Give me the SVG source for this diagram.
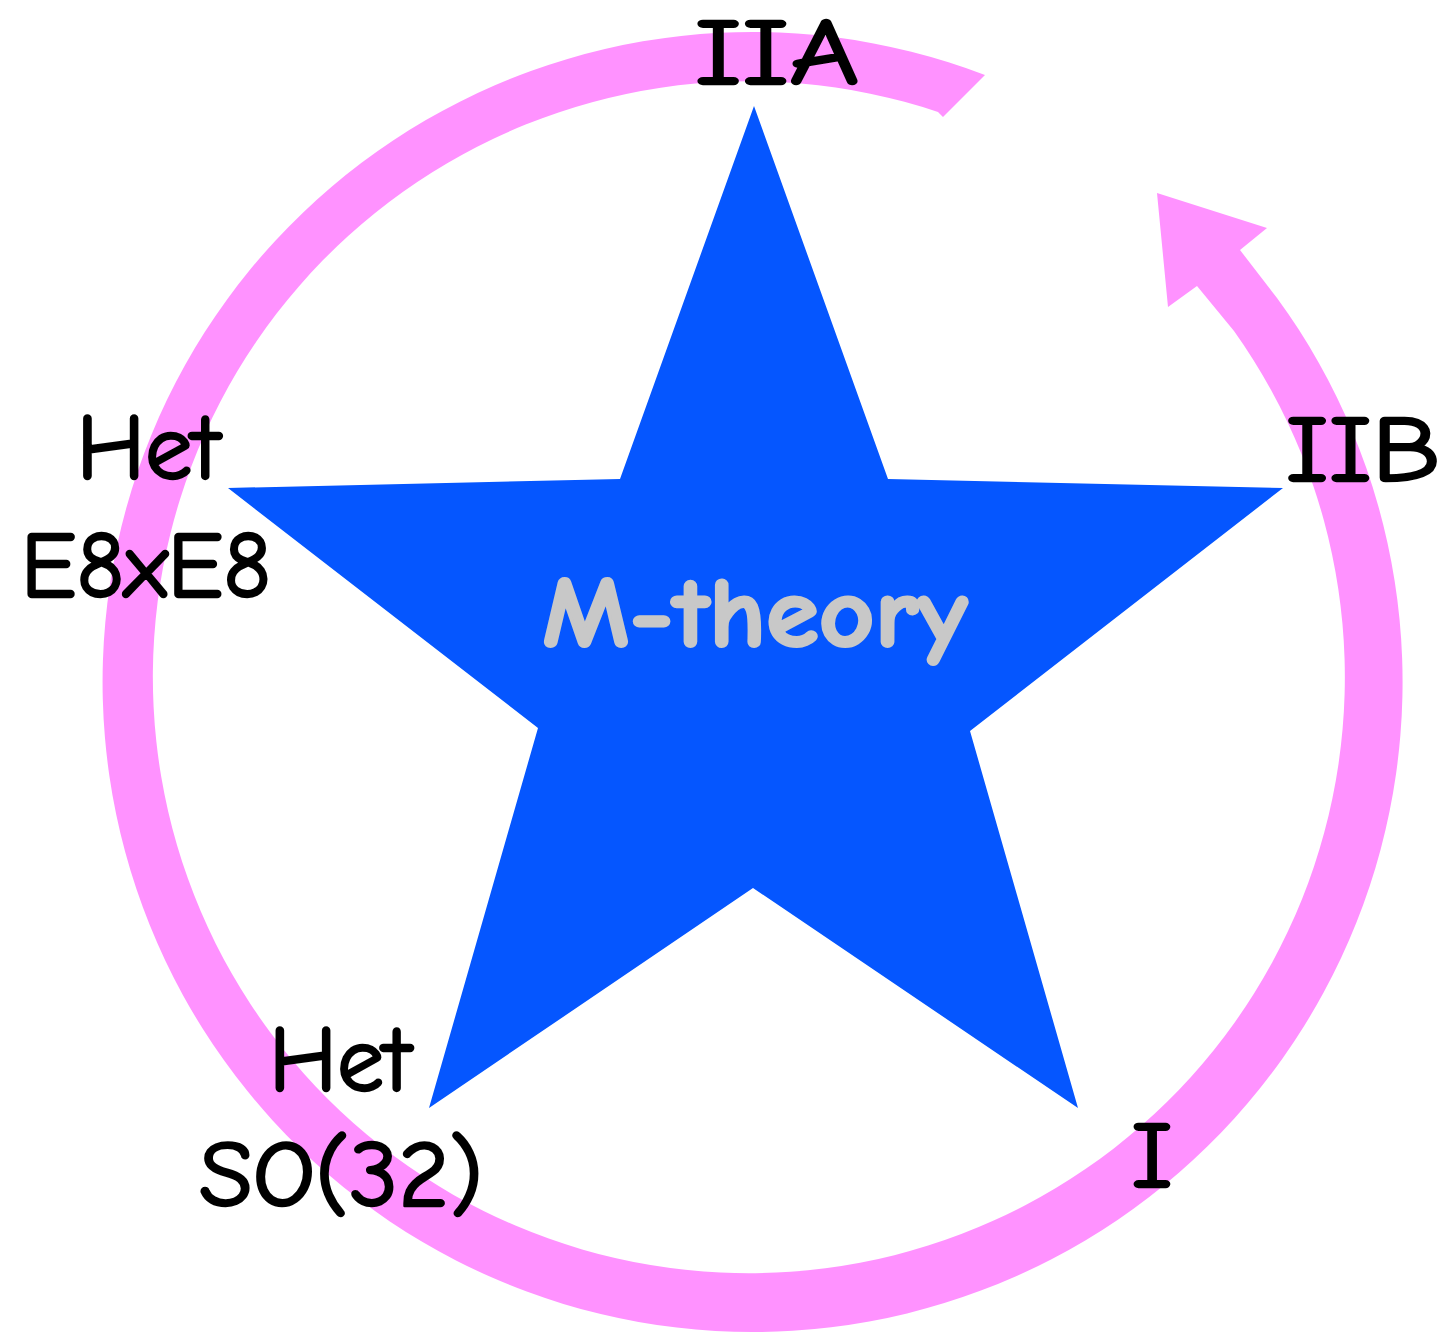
<svg xmlns="http://www.w3.org/2000/svg" width="1450" height="1333" viewBox="0 0 1450 1333">
<style>
.lbl{font-family:"Comic Sans MS","Comic Neue","Open Sans",sans-serif;font-size:94px;fill:#000;stroke:#000;stroke-width:2.5;stroke-linejoin:round;text-anchor:middle}
.title{font-family:"Comic Sans MS","Comic Neue","Open Sans",sans-serif;font-size:100px;font-weight:bold;fill:#c8c8c8;stroke:#c8c8c8;stroke-width:3;stroke-linejoin:round;text-anchor:middle}
</style>
<rect width="1450" height="1333" fill="#fff"/>
<g id="connectors">
<path id="cycle-arrow" fill="#ff92ff" d="M985,75 A650,650 0 1 0 1277,298 L1240,250 L1267,228 L1157,193 L1168,307 L1197,286 L1234,331 A596,596 0 1 1 938,112 L943,117 Z"/>
</g>
<g id="m-theory">
<polygon fill="#0556ff" points="754,106 888,479 1283,488 970,731 1078,1108 753,888 429,1108 538,728 228,488 620,479"/>
<text class="title" x="755" y="646" textLength="425" lengthAdjust="spacingAndGlyphs">M-theory</text>
</g>
<g id="iia"><text class="lbl" x="777" y="84" font-size="90" textLength="165" lengthAdjust="spacingAndGlyphs">IIA</text></g>
<g id="iib"><text class="lbl" x="1363" y="481" textLength="155" lengthAdjust="spacingAndGlyphs">IIB</text></g>
<g id="het-e8"><text class="lbl" x="148" y="479" textLength="143" lengthAdjust="spacingAndGlyphs">Het</text><text class="lbl" x="146" y="597" textLength="250" lengthAdjust="spacingAndGlyphs">E8xE8</text></g>
<g id="het-so32"><text class="lbl" x="340" y="1091" textLength="142" lengthAdjust="spacingAndGlyphs">Het</text><text class="lbl" x="341" y="1206" textLength="284" lengthAdjust="spacingAndGlyphs">SO(32)</text></g>
<g id="type-i"><text class="lbl" x="1152" y="1187" textLength="42" lengthAdjust="spacingAndGlyphs">I</text></g>
</svg>
